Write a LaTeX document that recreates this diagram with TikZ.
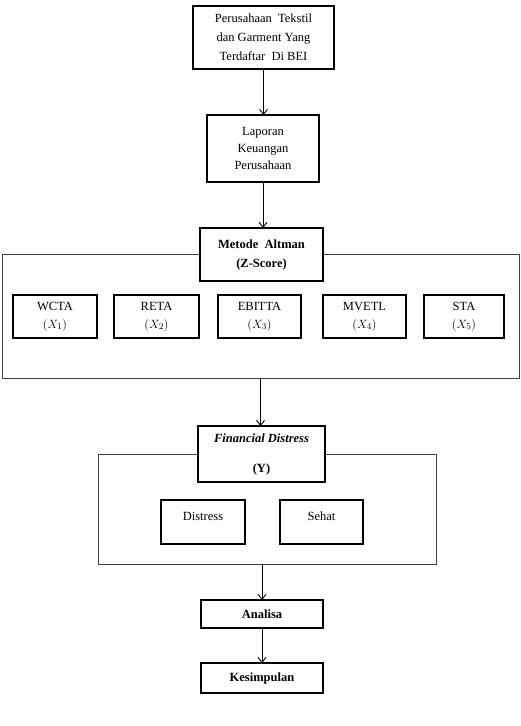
\documentclass[tikz,border=0pt]{standalone}
\usepackage{fontspec}
\setmainfont{Liberation Serif}
\usetikzlibrary{arrows.meta}
\begin{document}
\begin{tikzpicture}[x=1pt,y=-1pt,
  box/.style={draw, line width=1.1pt, fill=white, align=center, inner sep=1pt, outer sep=0pt,
    font=\fontsize{12.5}{19}\selectfont},
  outerbox/.style={draw, line width=0.8pt, draw=black!75, inner sep=0pt, outer sep=0pt},
  arr/.style={-{Straight Barb[length=5pt,width=8pt]}, line width=0.9pt}]
\useasboundingbox (0,0) rectangle (521,726);
% outer frames
\node[outerbox, minimum width=517, minimum height=124] (o1) at (260.5,316) {};
\node[outerbox, minimum width=338, minimum height=110] (o2) at (267,509) {};
% main boxes
\node[box, minimum width=141, minimum height=63] (b1) at (263.5,37.5)
  {Perusahaan \ Tekstil\\dan Garment Yang\\Terdaftar \ Di BEI};
\node[box, minimum width=112, minimum height=67, font=\fontsize{12.5}{17}\selectfont] (b2) at (263,148.5)
  {Laporan\\Keuangan\\Perusahaan};
\node[box, minimum width=123, minimum height=53, font=\fontsize{12.5}{19}\selectfont\bfseries] (m) at (261.5,254.5)
  {Metode \ Altman\\(Z-Score)};
\node[box, minimum width=84, minimum height=43, font=\fontsize{12.5}{18}\selectfont] (x1) at (55,316.5) {WCTA\\$(X_1)$};
\node[box, minimum width=85, minimum height=43, font=\fontsize{12.5}{18}\selectfont] (x2) at (156.5,316.5) {RETA\\$(X_2)$};
\node[box, minimum width=83, minimum height=43, font=\fontsize{12.5}{18}\selectfont] (x3) at (259.5,316.5) {EBITTA\\$(X_3)$};
\node[box, minimum width=83, minimum height=43, font=\fontsize{12.5}{18}\selectfont] (x4) at (364.5,316.5) {MVETL\\$(X_4)$};
\node[box, minimum width=80, minimum height=43, font=\fontsize{12.5}{18}\selectfont] (x5) at (464,316.5) {STA\\$(X_5)$};
\node[box, minimum width=127, minimum height=56] (fd) at (261.5,454)
  {\textbf{\textit{Financial Distress}}\\[11pt]\textbf{(Y)}};
\node[box, minimum width=84, minimum height=44, text depth=12pt] (d1) at (203,522) {Distress};
\node[box, minimum width=83, minimum height=44, text depth=12pt] (d2) at (321.5,522) {Sehat};
\node[box, minimum width=122, minimum height=28, font=\fontsize{12.5}{19}\selectfont\bfseries] (an) at (262,614) {Analisa};
\node[box, minimum width=122, minimum height=30, font=\fontsize{12.5}{19}\selectfont\bfseries] (ks) at (262,678) {Kesimpulan};
% connectors
\draw[arr] (b1.south) -- (b1.south |- b2.north);
\draw[arr] (b2.south) -- (b2.south |- m.north);
\draw[arr] (o1.south) -- (o1.south |- fd.north);
\draw[arr] (an.north |- o2.south) -- (an.north);
\draw[arr] (an.south) -- (ks.north);
\end{tikzpicture}
\end{document}
